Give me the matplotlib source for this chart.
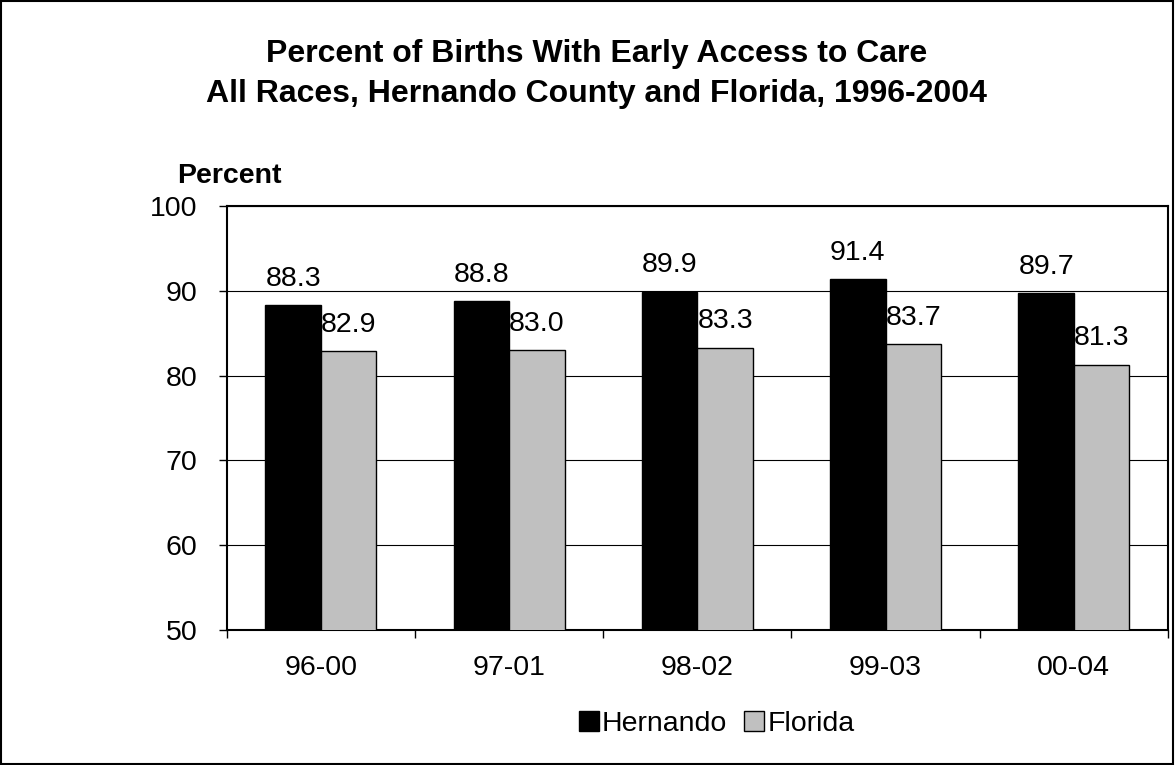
import numpy as np
import matplotlib.pyplot as plt
from matplotlib.patches import Rectangle

plt.rcParams['font.family'] = ['Liberation Sans', 'DejaVu Sans']

periods = ["96-00", "97-01", "98-02", "99-03", "00-04"]
hernando = [88.3, 88.8, 89.9, 91.4, 89.7]
florida = [82.9, 83.0, 83.3, 83.7, 81.3]
y_ticks = [50, 60, 70, 80, 90, 100]

fs = 20.5

fig = plt.figure(figsize=(11.75, 7.65), dpi=100)
ax = fig.add_axes([0.193, 0.1765, 0.801, 0.554])

x = np.arange(len(periods))
w = 0.295
b1 = ax.bar(x - w / 2, hernando, w, color="black", edgecolor="black",
            linewidth=1, label="Hernando", zorder=3)
b2 = ax.bar(x + w / 2, florida, w, color="#c0c0c0", edgecolor="black",
            linewidth=1, label="Florida", zorder=3)

# value labels sit ~2.3 units above each bar
for xi, v in zip(x - w / 2, hernando):
    ax.text(xi, v + 2.3, f"{v:.1f}", ha="center", va="baseline", fontsize=fs)
for xi, v in zip(x + w / 2, florida):
    ax.text(xi, v + 2.3, f"{v:.1f}", ha="center", va="baseline", fontsize=fs)

ax.set_ylim(50, 100)
ax.set_xlim(-0.5, len(periods) - 0.5)
ax.set_yticks(y_ticks)
ax.tick_params(axis="y", labelsize=fs, direction="out", length=6, width=1, pad=15)
ax.yaxis.grid(True, color="black", linewidth=0.8, zorder=0)
ax.set_axisbelow(True)

ax.set_xticks(x)
ax.set_xticklabels(periods, fontsize=fs)
ax.tick_params(axis="x", length=0, pad=18)
ax.set_xticks(np.arange(len(periods) + 1) - 0.5, minor=True)
ax.tick_params(axis="x", which="minor", direction="out", length=6, width=1)

for s in ax.spines.values():
    s.set_linewidth(1.5)
    s.set_color("black")

fig.text(0.508, 0.919, "Percent of Births With Early Access to Care",
         ha="center", va="baseline", fontsize=23, fontweight="bold")
fig.text(0.508, 0.8667, "All Races, Hernando County and Florida, 1996-2004",
         ha="center", va="baseline", fontsize=23, fontweight="bold")
fig.text(0.1506, 0.7608, "Percent", fontsize=fs, fontweight="bold", va="baseline")

fig.legend(handles=[b1, b2], loc="center", bbox_to_anchor=(0.61, 0.054), ncol=2,
           frameon=False, fontsize=fs, handlelength=0.7, handleheight=0.7,
           handletextpad=0.1, columnspacing=0.6, borderpad=0)

fig.patches.append(Rectangle((0.0005, 0.001), 0.998, 0.998, transform=fig.transFigure,
                             fill=False, edgecolor="black", linewidth=1.5))

fig.savefig("out.png", dpi=100)
